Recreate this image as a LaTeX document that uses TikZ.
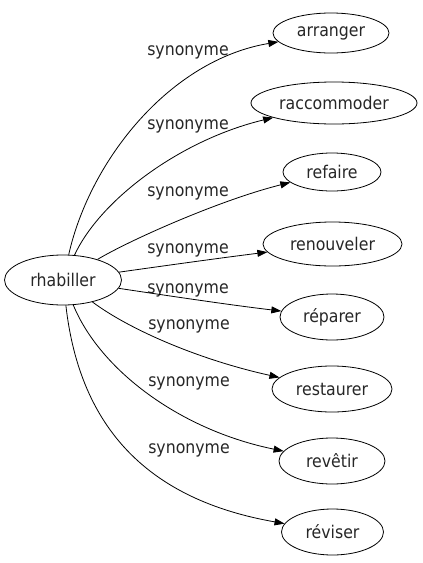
\documentclass[tikz,border=0pt]{standalone}
\usepackage{fontspec}
\setmainfont{DejaVu Sans Condensed}
\usetikzlibrary{shapes.geometric,arrows.meta}
\begin{document}
\begin{tikzpicture}[x=1pt,y=-1pt,
  word/.style={draw,ellipse,inner sep=0pt,line width=0.8pt,font=\fontsize{17.5}{20}\selectfont,text=black!85},
  lbl/.style={inner sep=0pt,font=\fontsize{17.5}{20}\selectfont,text=black!85},
  syn/.style={line width=0.8pt,-{Triangle[length=10pt,width=7pt]}}]
\useasboundingbox (0,0) rectangle (423,563);
\node[word,minimum width=117pt,minimum height=50pt] (rh) at (63,280) {rhabiller};
\node[word,minimum width=116pt,minimum height=40pt] (n1) at (331,33) {arranger};
\node[word,minimum width=166pt,minimum height=42pt] (n2) at (334,103) {raccommoder};
\node[word,minimum width=98pt,minimum height=38pt] (n3) at (332,172) {refaire};
\node[word,minimum width=139pt,minimum height=44pt] (n4) at (332.5,244) {renouveler};
\node[word,minimum width=104pt,minimum height=46pt] (n5) at (332,317) {réparer};
\node[word,minimum width=120pt,minimum height=46pt] (n6) at (332,389) {restaurer};
\node[word,minimum width=106pt,minimum height=46pt] (n7) at (332,461) {revêtir};
\node[word,minimum width=102pt,minimum height=46pt] (n8) at (332.5,532) {réviser};
\node[lbl] (l1) at (188,52) {synonyme};
\node[lbl] (l2) at (188,126) {synonyme};
\node[lbl] (l3) at (188,193) {synonyme};
\node[lbl] (l4) at (188,250) {synonyme};
\node[lbl] (l5) at (188,290) {synonyme};
\node[lbl] (l6) at (189,326) {synonyme};
\node[lbl] (l7) at (189,383) {synonyme};
\node[lbl] (l8) at (189,450) {synonyme};
\draw[syn] (rh) .. controls (90,160) and (170,60) .. (n1);
\draw[syn] (rh) .. controls (100,200) and (180,140) .. (n2);
\draw[syn] (rh) .. controls (130,240) and (220,200) .. (n3);
\draw[syn] (rh) .. controls (170,265) and (220,258) .. (n4);
\draw[syn] (rh) .. controls (170,296) and (230,305) .. (n5);
\draw[syn] (rh) .. controls (130,330) and (200,360) .. (n6);
\draw[syn] (rh) .. controls (100,370) and (180,430) .. (n7);
\draw[syn] (rh) .. controls (80,430) and (150,500) .. (n8);
\end{tikzpicture}
\end{document}
